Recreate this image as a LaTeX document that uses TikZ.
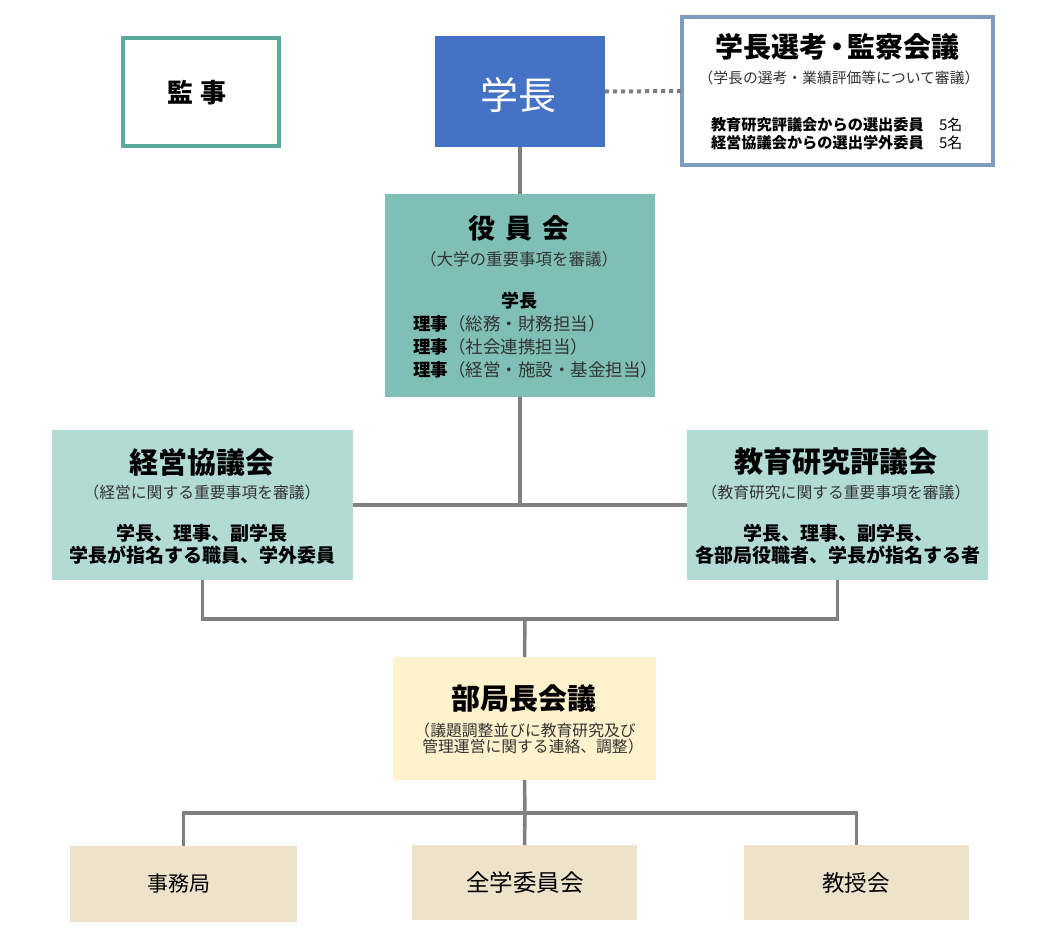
\documentclass[tikz,border=0pt]{standalone}
\usepackage{fontspec}
\setmainfont{Noto Sans CJK JP}
\definecolor{kanjiB}{HTML}{5AA99B}
\definecolor{gakuB}{HTML}{4472C4}
\definecolor{senkoB}{HTML}{7C9DBF}
\definecolor{yakuinF}{HTML}{7FBFB5}
\definecolor{kyogiF}{HTML}{B3DBD6}
\definecolor{bukyokuF}{HTML}{FFF2CC}
\definecolor{lowF}{HTML}{EEE2CA}
\definecolor{lineC}{HTML}{808080}
\definecolor{subC}{HTML}{333333}
\newcommand{\fsz}[1]{\fontsize{#1}{#1}\selectfont}
\begin{document}
\begin{tikzpicture}[x=1pt,y=-1pt,
  box/.style={rectangle, inner sep=0, outer sep=0},
  txt/.style={inner sep=0, outer sep=0, text=black},
  conn/.style={draw=lineC, line width=3.5pt},
  dotconn/.style={draw=lineC, line width=4pt, dash pattern=on 4pt off 4pt},
  ttl/.style={txt, font=\fsz{29}\bfseries},
  sub/.style={txt, text=subC, font=\fsz{15.8}},
  mem/.style={txt, font=\fsz{19}\bfseries}
]
\useasboundingbox (0,0) rectangle (1040,945);

% top row
\node[box, draw=kanjiB, line width=4pt, fill=white, minimum width=156, minimum height=108] (kanji) at (201,92) {};
\node[txt, font=\fsz{26}\bfseries] (kanjiT) at (197,93) {監\hspace{8pt}事};

\node[box, fill=gakuB, minimum width=170, minimum height=111] (gakucho) at (520,91.5) {};
\node[txt, text=white, font=\fsz{38}] (gakuchoT) at (518.5,95) {学長};

\node[box, draw=senkoB, line width=4pt, fill=white, minimum width=311, minimum height=148] (senko) at (837.5,91) {};
\node[txt, font=\fsz{28}\bfseries] (senkoT) at (837,47) {学長選考\hspace{-4pt}・\hspace{-4pt}監察会議};
\node[sub, font=\fsz{14.8}] (senkoS) at (839,78) {（学長の選考・業績評価等について審議）};
\node[txt, anchor=west, font=\fsz{15.2}\bfseries] (senkoL1) at (711,125) {教育研究評議会からの選出委員};
\node[txt, anchor=west, font=\fsz{15}] (senkoN1) at (939,125) {5名};
\node[txt, anchor=west, font=\fsz{15.2}\bfseries] (senkoL2) at (711,143) {経営協議会からの選出学外委員};
\node[txt, anchor=west, font=\fsz{15}] (senkoN2) at (939,143) {5名};

% 役員会
\node[box, fill=yakuinF, minimum width=270, minimum height=203] (yakuin) at (520,295.5) {};
\node[ttl, font=\fsz{27}\bfseries] (yakuinT) at (519,228) {役\hspace{10pt}員\hspace{10pt}会};
\node[sub, font=\fsz{16.5}] (yakuinS) at (519,259) {（大学の重要事項を審議）};
\node[txt, font=\fsz{18}\bfseries] (yakuinM0) at (519,301) {学長};
\node[txt, anchor=west, font=\fsz{17.5}] (yakuinM1) at (413,324) {\textbf{理事}\textcolor{subC}{（総務・財務担当）}};
\node[txt, anchor=west, font=\fsz{17.5}] (yakuinM2) at (413,347) {\textbf{理事}\textcolor{subC}{（社会連携担当）}};
\node[txt, anchor=west, font=\fsz{17.5}] (yakuinM3) at (413,370) {\textbf{理事}\textcolor{subC}{（経営・施設・基金担当）}};

% 協議会
\node[box, fill=kyogiF, minimum width=301, minimum height=150] (keiei) at (202.5,505) {};
\node[ttl] (keieiT) at (202,462) {経営協議会};
\node[sub] (keieiS) at (202,492) {（経営に関する重要事項を審議）};
\node[mem] (keieiM1) at (202,533) {学長、理事、副学長};
\node[mem] (keieiM2) at (202,555) {学長が指名する職員、学外委員};

\node[box, fill=kyogiF, minimum width=301, minimum height=150] (kyoiku) at (837.5,505) {};
\node[ttl] (kyoikuT) at (836,462) {教育研究評議会};
\node[sub] (kyoikuS) at (836,492) {（教育研究に関する重要事項を審議）};
\node[mem] (kyoikuM1) at (838,533) {学長、理事、副学長、};
\node[mem] (kyoikuM2) at (838,555) {各部局役職者、学長が指名する者};

% 部局長会議
\node[box, fill=bukyokuF, minimum width=263, minimum height=123] (bukyoku) at (524.5,718.5) {};
\node[ttl] (bukyokuT) at (524,698) {部局長会議};
\node[sub, align=left] (bukyokuS) at (529,738.5) {（議題調整並びに教育研究及び\\[1pt]\hspace{0.5em}管理運営に関する連絡、調整）};

% bottom row
\node[box, fill=lowF, minimum width=227, minimum height=76] (jimu) at (183.5,884) {};
\node[txt, font=\fsz{21}] (jimuT) at (179,884) {事務局};
\node[box, fill=lowF, minimum width=225, minimum height=75] (zengaku) at (524.5,882.5) {};
\node[txt, font=\fsz{23.5}] (zengakuT) at (525,883) {全学委員会};
\node[box, fill=lowF, minimum width=225, minimum height=75] (kyoju) at (856.5,882.5) {};
\node[txt, font=\fsz{22.5}] (kyojuT) at (856,883) {教授会};

% junctions
\coordinate (j1) at (520,505);
\coordinate (j2) at (525,619);
\coordinate (j3) at (525,813);

% connectors
\draw[dotconn] (gakucho.east) -- (senko.west);
\draw[conn] (gakucho.south) -- (yakuin.north);
\draw[conn] (yakuin.south) -- (j1);
\draw[conn] (keiei.east |- j1) -- (kyoiku.west |- j1);
\draw[conn] (keiei.south) |- (j2) -| (kyoiku.south);
\draw[conn] (j2) -- (bukyoku.north);
\draw[conn] (bukyoku.south) -- (j3);
\draw[conn] (jimu.north) |- (j3) -| (kyoju.north);
\draw[conn] (j3) -- (zengaku.north);
\end{tikzpicture}
\end{document}
